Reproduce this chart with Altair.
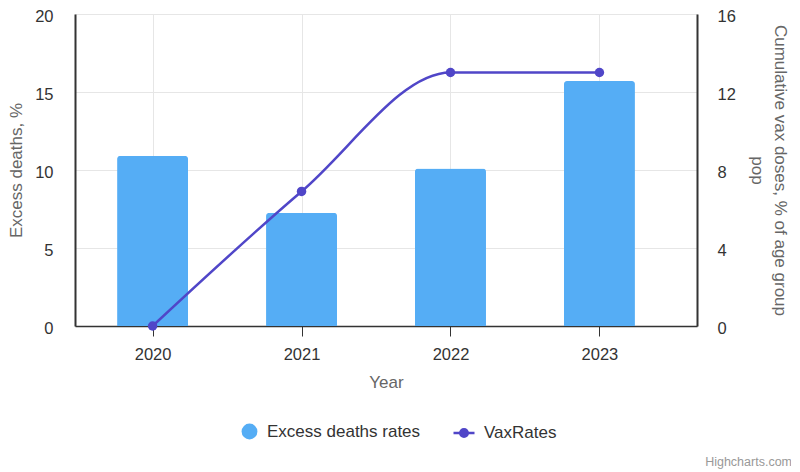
import altair as alt
import pandas as pd

years = [2020, 2021, 2022, 2023]
excess_deaths = [10.9, 7.25, 10.1, 15.7]
vax_rates = [0.0, 6.9, 13.0, 13.0]
series_names = ["Excess deaths rates", "VaxRates"]
left_ticks = [0, 5, 10, 15, 20]
right_ticks = [0, 4, 8, 12, 16]

BAR_COLOR = "#55adf5"
LINE_COLOR = "#5046c8"
FONT = "Liberation Sans"

bars_df = pd.DataFrame({"year": years, "value": excess_deaths, "series": series_names[0]})
line_df = pd.DataFrame({"year": years, "value": vax_rates, "series": series_names[1]})

x_enc = alt.X(
    "year:Q",
    scale=alt.Scale(domain=[2019.479, 2023.655], nice=False, zero=False, padding=0),
    axis=alt.Axis(
        values=years, format="d", title="Year", tickSize=10, tickColor="#333333",
        domainColor="#333333", domainWidth=1.5, grid=True, gridColor="#e6e6e6",
        labelFontSize=16.5, labelColor="#333333", labelPadding=10, labelFont=FONT,
        titleFontSize=17, titleColor="#666666", titleFontWeight="normal", titleFont=FONT,
        titlePadding=12,
    ),
)

bars = alt.Chart(bars_df).mark_bar(size=71, cornerRadiusTopLeft=3, cornerRadiusTopRight=3).encode(
    x=x_enc,
    y=alt.Y(
        "value:Q",
        scale=alt.Scale(domain=[0, 20], nice=False),
        axis=alt.Axis(
            values=left_ticks, title="Excess deaths, %", orient="left", ticks=False,
            domainColor="#333333", domainWidth=2, grid=True, gridColor="#e6e6e6",
            labelFontSize=16.5, labelColor="#333333", labelPadding=22, labelFont=FONT,
            labelOffset=2,
            titleFontSize=17, titleColor="#666666", titleFontWeight="normal", titleFont=FONT,
            titlePadding=9,
        ),
    ),
    color=alt.Color(
        "series:N",
        scale=alt.Scale(domain=[series_names[0]], range=[BAR_COLOR]),
        legend=alt.Legend(
            title=None, orient="none", legendX=166, legendY=409, symbolType="circle",
            symbolSize=250, labelFontSize=17, labelColor="#333333", labelFont=FONT,
            symbolStrokeWidth=0, labelOffset=9,
        ),
    ),
)

y_right = alt.Y(
    "value:Q",
    scale=alt.Scale(domain=[0, 16], nice=False),
    axis=alt.Axis(
        values=right_ticks, title=["Cumulative vax doses, % of age group", "pop"], orient="right",
        ticks=False, domainColor="#333333", domainWidth=2, grid=False,
        labelFontSize=16.5, labelColor="#333333", labelPadding=20, labelFont=FONT,
        labelOffset=2,
        titleFontSize=17, titleColor="#666666", titleFontWeight="normal", titleFont=FONT,
        titlePadding=12, titleLineHeight=23,
    ),
)

line = alt.Chart(line_df).mark_line(strokeWidth=2.5, interpolate="monotone").encode(
    x=alt.X("year:Q"),
    y=y_right,
    color=alt.Color(
        "series:N",
        scale=alt.Scale(domain=[series_names[1]], range=[LINE_COLOR]),
        legend=alt.Legend(
            title=None, orient="none", legendX=377, legendY=407,
            symbolType="M-1,0H1M-0.36,0A0.36,0.36,0,1,0,0.36,0A0.36,0.36,0,1,0,-0.36,0Z",
            symbolSize=441, symbolStrokeWidth=2.5, symbolFillColor=LINE_COLOR,
            labelFontSize=17, labelColor="#333333", labelFont=FONT, labelOffset=8,
        ),
    ),
)

points = alt.Chart(line_df).mark_point(filled=True, size=90, opacity=1).encode(
    x=alt.X("year:Q"),
    y=y_right,
    color=alt.value(LINE_COLOR),
)

right_layer = alt.layer(line, points)

chart = alt.layer(bars, right_layer).resolve_scale(
    y="independent", color="independent"
).properties(
    width=622,
    height=312,
    autosize=alt.AutoSizeParams(type="none"),
    padding={"left": 67, "top": 6, "right": 94, "bottom": 144},
    title=alt.TitleParams(
        text="Highcharts.com", orient="bottom", anchor="end", frame="group", fontSize=12.5,
        color="#999999", fontWeight="normal", font=FONT, offset=14, dx=95,
    ),
).configure_view(stroke=None).configure(background="white")

chart.save("out.html", embed_options={"renderer": "svg", "actions": False})
